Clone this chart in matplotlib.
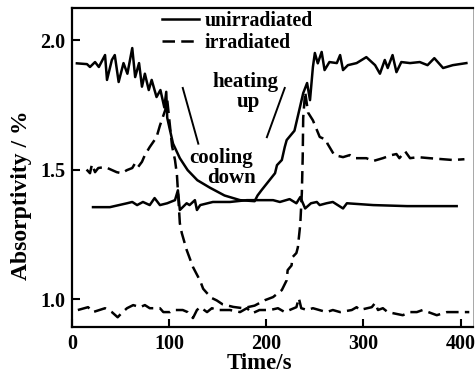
import matplotlib
matplotlib.use("Agg")
import matplotlib.pyplot as plt

# unirradiated sample, heating/cooling cycle (solid)
unirr_t = [5, 15.4, 18.5, 23.7, 27.6, 34, 36, 41, 44, 48, 53, 57, 62, 65, 69, 72, 75,
           79, 82, 87, 91, 95, 97, 98, 100.8, 104, 111, 119, 129, 142, 157, 173, 188,
           191, 195, 209, 211, 216, 219, 221, 229, 234.6, 238, 242, 245, 248, 250, 253,
           257, 260, 265, 272.6, 276, 279, 284, 293, 303, 312, 317, 322, 325, 330, 334,
           339, 348, 358, 366, 373, 382, 392, 406]
unirr_a = [1.91, 1.907, 1.896, 1.915, 1.896, 1.942, 1.846, 1.923, 1.942, 1.838, 1.911,
           1.87, 1.969, 1.857, 1.911, 1.82, 1.87, 1.807, 1.846, 1.78, 1.807, 1.74, 1.80,
           1.70, 1.653, 1.60, 1.544, 1.498, 1.459, 1.43, 1.40, 1.382, 1.378, 1.40, 1.42,
           1.486, 1.517, 1.537, 1.587, 1.614, 1.65, 1.74, 1.795, 1.834, 1.768, 1.896,
           1.95, 1.91, 1.954, 1.884, 1.915, 1.911, 1.942, 1.884, 1.903, 1.911, 1.934,
           1.903, 1.87, 1.923, 1.892, 1.942, 1.876, 1.915, 1.911, 1.915, 1.903, 1.93,
           1.892, 1.903, 1.911]

# unirradiated sample, constant temperature (solid)
unirr_flat_t = [21.6, 39, 56.6, 62, 67, 73, 80, 85, 90.5, 98, 106, 109, 111, 118, 121,
                126.5, 128.6, 132, 145, 162.6, 180, 193, 207, 214, 224, 231, 235, 240,
                246, 252, 255, 262, 268.5, 279, 283, 310, 345, 396]
unirr_flat_a = [1.355, 1.355, 1.37, 1.375, 1.363, 1.375, 1.363, 1.39, 1.363, 1.37, 1.382,
                1.42, 1.344, 1.37, 1.363, 1.382, 1.344, 1.363, 1.375, 1.375, 1.382, 1.382,
                1.382, 1.375, 1.386, 1.37, 1.394, 1.35, 1.37, 1.375, 1.363, 1.37, 1.375,
                1.35, 1.37, 1.363, 1.359, 1.359]

# irradiated sample, heating/cooling cycle (dashed)
irr_t = [15, 18.5, 20.5, 23.7, 27, 34, 46, 51, 56.6, 62, 65, 68, 72, 75, 80, 87, 90.5,
         96, 98, 103, 106, 108, 111, 113, 118, 124.5, 132, 135, 139, 144, 149, 155, 166,
         176, 188, 198.6, 207, 216, 221, 222, 226, 227, 231, 232.5, 235, 236.6, 237.5,
         238, 240, 243, 248, 255, 262, 263, 270, 279, 286, 291, 303, 310, 320, 329, 334,
         337, 343, 348, 356, 368, 392, 404]
irr_a = [1.50, 1.486, 1.52, 1.49, 1.506, 1.51, 1.49, 1.486, 1.498, 1.506, 1.525, 1.51,
         1.53, 1.556, 1.587, 1.625, 1.67, 1.73, 1.77, 1.59, 1.537, 1.48, 1.293, 1.255,
         1.19, 1.124, 1.07, 1.04, 1.023, 1.004, 0.995, 0.98, 0.97, 0.965, 0.975, 0.996,
         1.008, 1.035, 1.073, 1.112, 1.13, 1.162, 1.178, 1.2, 1.29, 1.41, 1.55, 1.70,
         1.80, 1.72, 1.69, 1.626, 1.614, 1.60, 1.556, 1.548, 1.556, 1.544, 1.544, 1.533,
         1.544, 1.556, 1.56, 1.544, 1.57, 1.544, 1.548, 1.544, 1.537, 1.54]

# irradiated sample, constant temperature (dashed)
irr_flat_t = [6, 16.5, 21.6, 34, 41, 47, 51, 56.6, 63, 70, 75, 80, 90.5, 94, 100.8, 104,
              114, 119, 124.5, 128.6, 132, 139, 144, 149, 162.6, 173, 180, 186, 193, 204,
              212, 219, 224, 231, 233.5, 236, 242, 248, 262, 268.5, 276, 288, 293, 296,
              308.6, 312, 315, 320, 325, 340.5, 348, 355, 361, 375.5, 386, 397, 409]
irr_flat_a = [0.958, 0.969, 0.95, 0.965, 0.95, 0.93, 0.946, 0.965, 0.977, 0.969, 0.977,
              0.965, 0.965, 0.95, 0.95, 0.958, 0.958, 0.95, 0.927, 0.958, 0.969, 0.95,
              0.965, 0.958, 0.958, 0.95, 0.965, 0.946, 0.958, 0.958, 0.965, 0.95, 0.958,
              0.969, 1.004, 0.965, 0.958, 0.965, 0.95, 0.958, 0.95, 0.958, 0.969, 0.958,
              0.969, 0.985, 0.958, 0.965, 0.95, 0.938, 0.95, 0.95, 0.958, 0.938, 0.95,
              0.95, 0.95]

# pointer lines next to the labels
cooling_ptr_t = [114, 130]
cooling_ptr_a = [1.815, 1.60]
heating_ptr_t = [200.6, 219]
heating_ptr_a = [1.625, 1.815]

xticks = [0, 100, 200, 300, 400]
yticks = [1.0, 1.5, 2.0]

plt.rcParams["font.family"] = ["Liberation Serif", "DejaVu Serif"]
plt.rcParams["font.weight"] = "bold"
plt.rcParams["axes.labelweight"] = "bold"

fig = plt.figure(figsize=(4.77, 3.76), dpi=100)
ax = fig.add_axes([0.151, 0.130, 0.841, 0.849])

lw = 1.8
dash = (0, (5, 2.5))
ax.plot(unirr_t, unirr_a, color="k", lw=lw, label="unirradiated")
ax.plot(unirr_flat_t, unirr_flat_a, color="k", lw=lw)
ax.plot(irr_t, irr_a, color="k", lw=lw, linestyle=dash, label="irradiated")
ax.plot(irr_flat_t, irr_flat_a, color="k", lw=lw, linestyle=dash)

ax.plot(cooling_ptr_t, cooling_ptr_a, color="k", lw=1.4)
ax.plot(heating_ptr_t, heating_ptr_a, color="k", lw=1.4)

ax.text(179, 1.838, "heating", ha="center", va="center", fontsize=15)
ax.text(182, 1.762, "up", ha="center", va="center", fontsize=15)
ax.text(154, 1.544, "cooling", ha="center", va="center", fontsize=15)
ax.text(164, 1.467, "down", ha="center", va="center", fontsize=15)

ax.set_xlim(0, 413)
ax.set_ylim(0.892, 2.124)
ax.set_xticks(xticks)
ax.set_yticks(yticks)
ax.set_yticklabels(["{:.1f}".format(v) for v in yticks])
ax.tick_params(direction="in", length=6, width=1.5, labelsize=14.5, pad=5)

for side in ["left", "bottom", "top"]:
    ax.spines[side].set_linewidth(1.6)
ax.spines["right"].set_linewidth(0.6)
ax.spines["right"].set_color("0.6")

ax.set_xlabel("Time/s", fontsize=16.5)
ax.set_ylabel("Absorptivity / %", fontsize=17)
ax.xaxis.set_label_coords(0.466, -0.08)
ax.yaxis.set_label_coords(-0.10, 0.414)

ax.legend(loc="upper left", bbox_to_anchor=(0.224, 0.99), frameon=False,
          fontsize=14.3, handlelength=1.85, handletextpad=0.3, labelspacing=0.1,
          borderpad=0, borderaxespad=0)

fig.savefig("out.png", dpi=100)
